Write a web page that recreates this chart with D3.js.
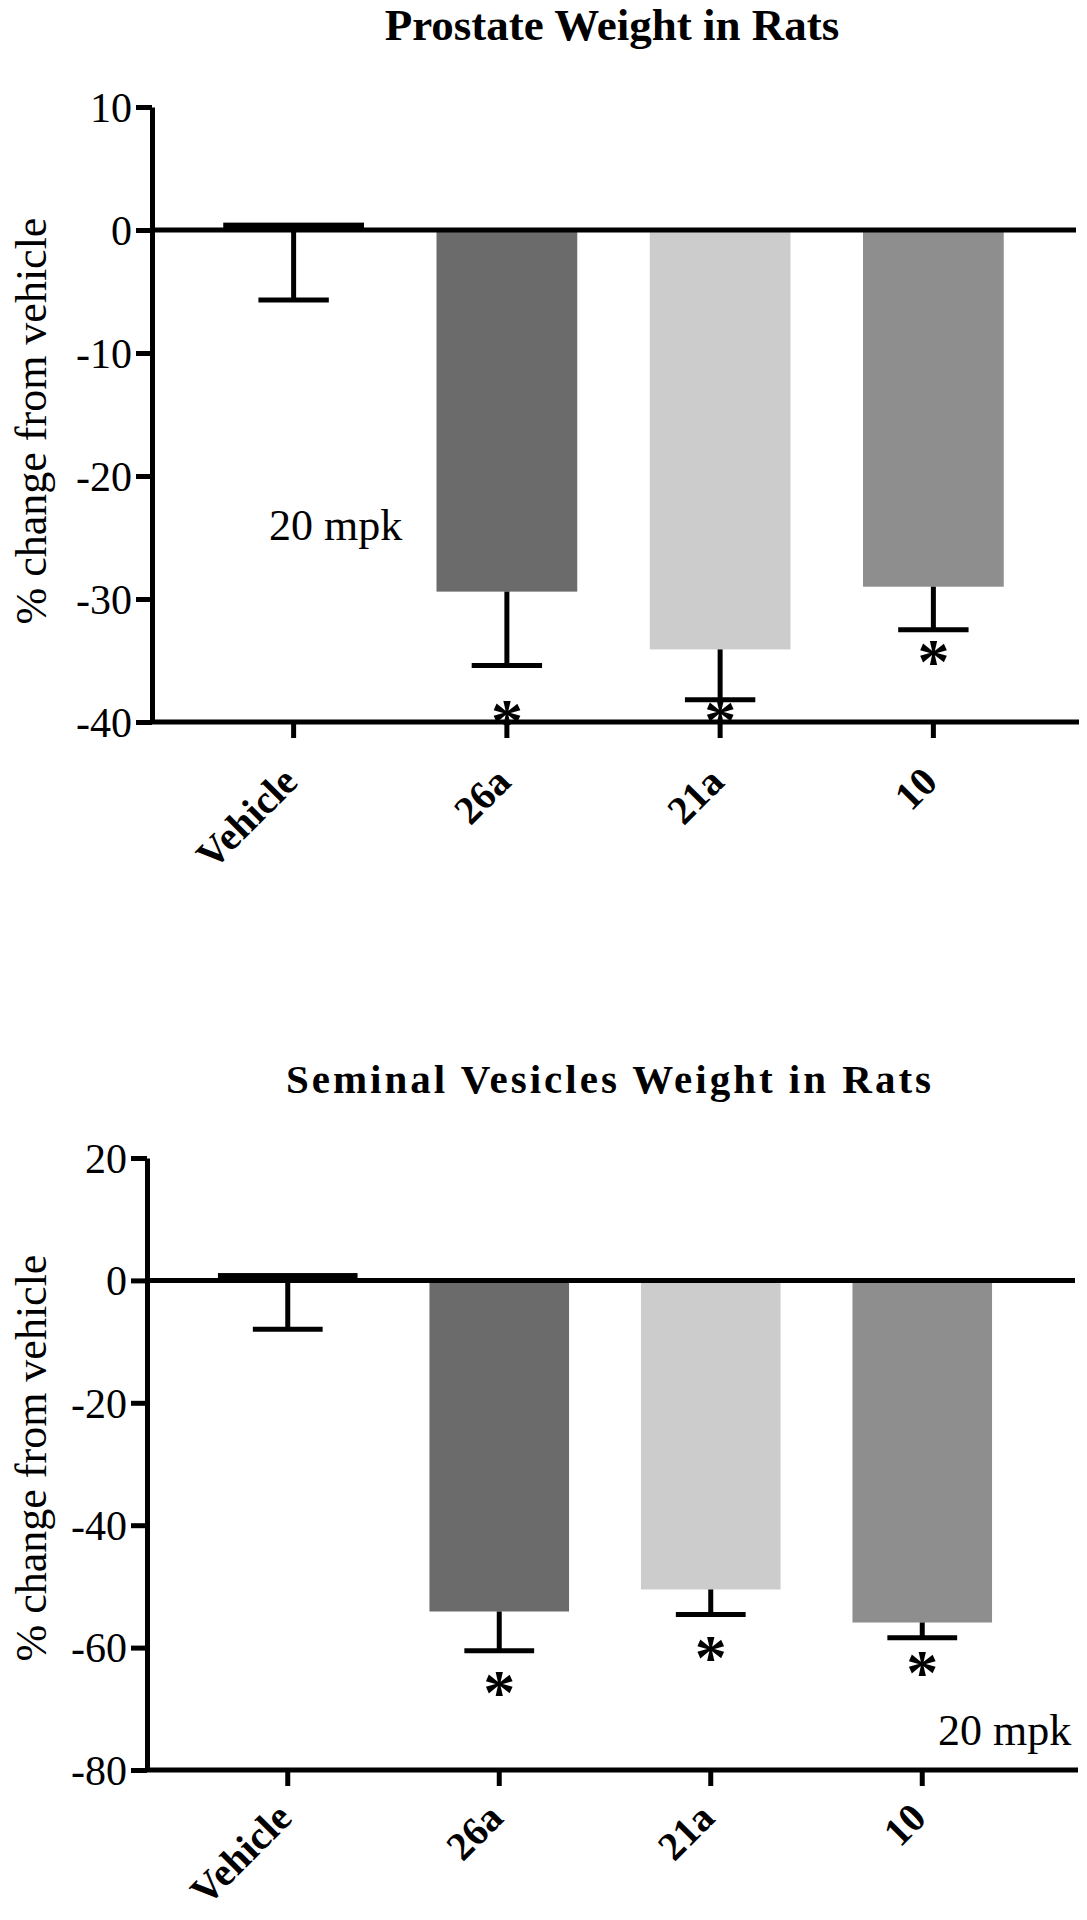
<!DOCTYPE html>
<html><head><meta charset="utf-8">
<script src="https://cdn.jsdelivr.net/npm/d3@7"></script>
<style>html,body{margin:0;padding:0;background:#fff;} svg{display:block;}</style>
</head><body>
<svg id="chart" width="1087" height="1920"></svg>
<script>
// ---- data ----
const categories = ["Vehicle", "26a", "21a", "10"];
const barColors = ["#000000", "#6b6b6b", "#cccccc", "#8e8e8e"];

const prostateMean  = [0.6, -29.4, -34.1, -29.0];
const prostateLower = [-5.7, -35.4, -38.2, -32.5];
const prostateStar  = [null, -39.2, -39.1, -34.3];
const prostateTicks = [10, 0, -10, -20, -30, -40];

const seminalMean  = [1.2, -54.1, -50.5, -55.9];
const seminalLower = [-8.0, -60.5, -54.6, -58.4];
const seminalStar  = [null, -65.8, -60.1, -62.6];
const seminalTicks = [20, 0, -20, -40, -60, -80];

const titles = ["Prostate Weight in  Rats", "Seminal  Vesicles Weight in  Rats"];
const yLabel = "% change from vehicle";
const doseLabel = "20 mpk";

// ---- drawing ----
const svg = d3.select("#chart");
svg.append("rect").attr("width", 1087).attr("height", 1920).attr("fill", "#fff");
const SERIF = "'Liberation Serif', 'Times New Roman', serif";

function drawPanel(p) {
  const g = svg.append("g");
  const y = d3.scaleLinear().domain(p.domain).range(p.yRange);
  const x = d3.scaleBand().domain(categories).range(p.xRange)
    .paddingInner(0.34).paddingOuter(0.17);
  const bw = x.bandwidth();
  const data = categories.map((c, i) => ({
    c, v: p.mean[i], lo: p.lower[i], star: p.star[i], color: barColors[i]
  }));

  // title
  g.append("text")
    .attr("x", p.titleX).attr("y", p.titleY)
    .attr("text-anchor", "middle")
    .style("font-family", SERIF).style("font-weight", "bold")
    .style("font-size", p.titleSize + "px")
    .style("letter-spacing", p.titleSpacing + "px")
    .text(p.title);

  // bars
  g.selectAll("rect.bar").data(data).join("rect")
    .attr("class", "bar")
    .attr("x", d => x(d.c))
    .attr("width", bw)
    .attr("y", d => y(Math.max(0, d.v)))
    .attr("height", d => Math.abs(y(d.v) - y(0)))
    .attr("fill", d => d.color);

  // error bars (downward only)
  const eb = g.selectAll("g.err").data(data).join("g").attr("class", "err");
  eb.append("line")
    .attr("x1", d => x(d.c) + bw / 2).attr("x2", d => x(d.c) + bw / 2)
    .attr("y1", d => y(Math.min(0, d.v))).attr("y2", d => y(d.lo))
    .attr("stroke", "#000").attr("stroke-width", 5);
  eb.append("line")
    .attr("x1", d => x(d.c) + bw / 4).attr("x2", d => x(d.c) + 3 * bw / 4)
    .attr("y1", d => y(d.lo)).attr("y2", d => y(d.lo))
    .attr("stroke", "#000").attr("stroke-width", 5);

  // zero line
  g.append("line")
    .attr("x1", p.axisX).attr("x2", p.lineEnd)
    .attr("y1", y(0)).attr("y2", y(0))
    .attr("stroke", "#000").attr("stroke-width", 5);

  // y axis
  const yAxis = d3.axisLeft(y).tickValues(p.ticks).tickSize(16).tickSizeOuter(0)
    .tickPadding(4).tickFormat(d => String(d));
  const ya = g.append("g").attr("transform", `translate(${p.axisX},0)`).call(yAxis);
  ya.select(".domain").attr("stroke", "#000").attr("stroke-width", 5);
  ya.selectAll(".tick line").attr("stroke", "#000").attr("stroke-width", 5);
  ya.selectAll(".tick text")
    .style("font-family", SERIF).style("font-size", "42px").attr("fill", "#000")
    .attr("dy", "0.34em");

  // x axis
  const baseY = y(p.domain[0]);
  const xAxis = d3.axisBottom(x).tickSize(16).tickSizeOuter(0);
  const xa = g.append("g").attr("transform", `translate(0,${baseY})`).call(xAxis);
  xa.select(".domain").remove();
  xa.append("line").attr("x1", p.axisX - 2).attr("x2", p.lineEnd + 3)
    .attr("y1", 0).attr("y2", 0).attr("stroke", "#000").attr("stroke-width", 5);
  xa.selectAll(".tick line").attr("stroke", "#000").attr("stroke-width", 5);
  xa.selectAll(".tick text")
    .style("font-family", SERIF).style("font-weight", "bold").style("font-size", "40px")
    .attr("fill", "#000")
    .attr("text-anchor", "end")
    .attr("x", 6).attr("y", p.labelOffset).attr("dy", 0)
    .attr("transform", `rotate(-45, 6, ${p.labelOffset})`);

  // significance stars
  const starSize = 64;
  g.selectAll("text.star").data(data.filter(d => d.star != null)).join("text")
    .attr("class", "star")
    .attr("x", d => x(d.c) + bw / 2)
    .attr("y", d => y(d.star) + 0.48 * starSize)
    .attr("text-anchor", "middle")
    .style("font-family", SERIF).style("font-weight", "bold")
    .style("font-size", starSize + "px")
    .text("*");

  // y label
  g.append("text")
    .attr("transform", `translate(${p.yLabelX},${p.yLabelY}) rotate(-90)`)
    .attr("text-anchor", "middle")
    .style("font-family", SERIF).style("font-size", "44px")
    .text(yLabel);

  // dose annotation
  g.append("text")
    .attr("x", p.doseX).attr("y", p.doseY)
    .style("font-family", SERIF).style("font-size", "44px")
    .text(doseLabel);
}

drawPanel({
  title: titles[0], titleX: 612, titleY: 40, titleSize: 45, titleSpacing: 0,
  domain: [-40, 10], yRange: [722, 107], ticks: prostateTicks,
  xRange: [187, 1040], axisX: 152, lineEnd: 1076, labelOffset: 62,
  mean: prostateMean, lower: prostateLower, star: prostateStar,
  yLabelX: 46, yLabelY: 421, doseX: 269, doseY: 540
});

drawPanel({
  title: titles[1], titleX: 610, titleY: 1093, titleSize: 41, titleSpacing: 3,
  domain: [-80, 20], yRange: [1770, 1158], ticks: seminalTicks,
  xRange: [182, 1028], axisX: 147, lineEnd: 1075, labelOffset: 50,
  mean: seminalMean, lower: seminalLower, star: seminalStar,
  yLabelX: 46, yLabelY: 1458, doseX: 938, doseY: 1745
});
</script>
</body></html>
